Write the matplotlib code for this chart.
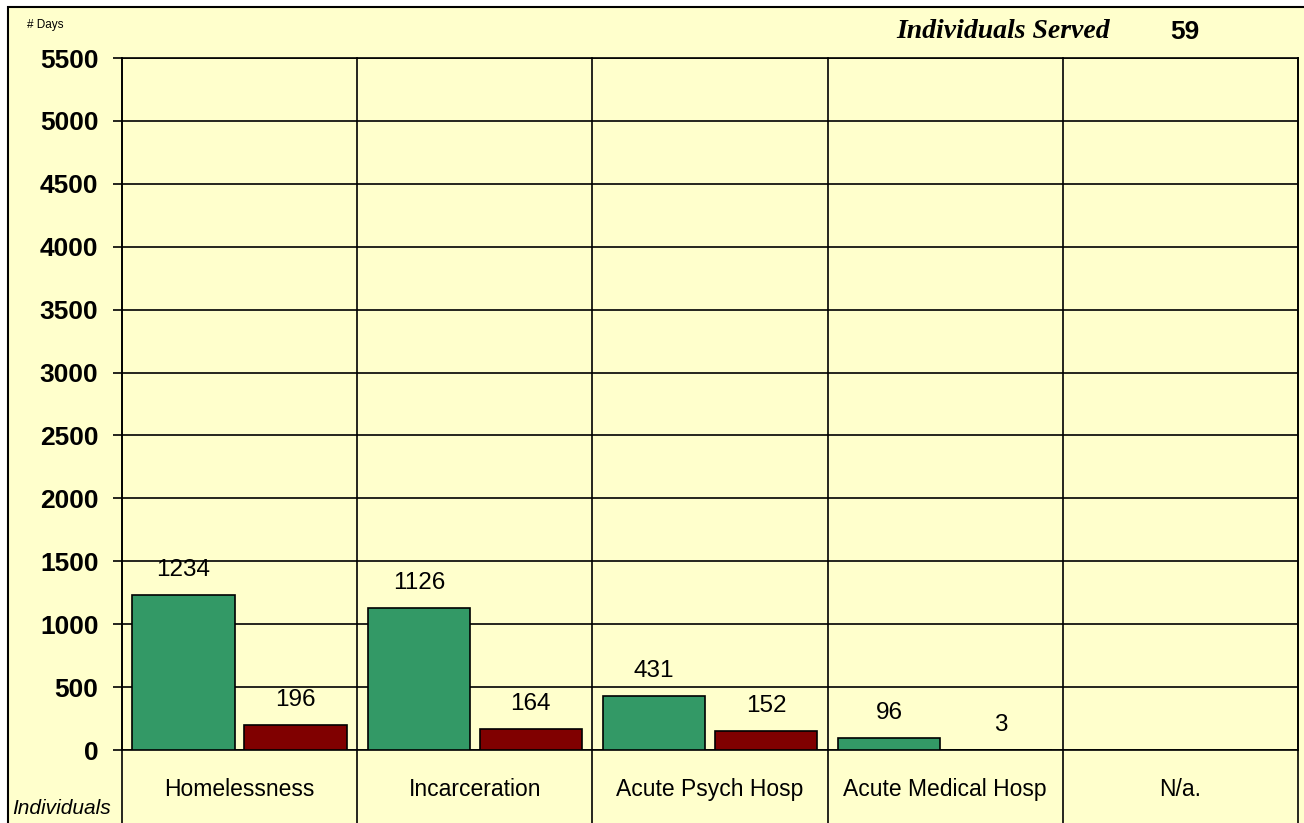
import matplotlib
matplotlib.use("Agg")
import matplotlib.pyplot as plt
import matplotlib.transforms as mtransforms
from matplotlib.patches import Rectangle
import numpy as np

categories = ["Homelessness", "Incarceration", "Acute Psych Hosp", "Acute Medical Hosp", "N/a."]
before_days = [1234, 1126, 431, 96, None]
after_days = [196, 164, 152, 3, None]
y_ticks = [0, 500, 1000, 1500, 2000, 2500, 3000, 3500, 4000, 4500, 5000, 5500]
individuals_served = 59

GREEN = "#339966"
RED = "#800000"
BG = "#FFFFCC"
SANS = "Liberation Sans"

W, H = 1304, 823
fig = plt.figure(figsize=(W / 100, H / 100), dpi=100, facecolor="white")

# outer chart frame (drawn underneath the axes)
fig.patches.append(Rectangle((8 / W, -0.05), 1.1, 1 - 7 / H + 0.05, transform=fig.transFigure,
                             facecolor=BG, edgecolor="black", lw=1.5, zorder=-10))

left, right, top, bottom = 122, 1298, 58, 750
ax = fig.add_axes([left / W, 1 - bottom / H, (right - left) / W, (bottom - top) / H])
ax.set_facecolor(BG)

x = np.arange(len(categories))
bw = 0.435
off = 0.238

for i in range(len(categories)):
    for val, dx, col in ((before_days[i], -off, GREEN), (after_days[i], off, RED)):
        if val is None:
            continue
        ax.bar(x[i] + dx, val, width=bw, color=col, edgecolor="black", lw=1.2, zorder=3)
        ax.annotate(str(val), xy=(x[i] + dx, val), xytext=(0, 18), textcoords="offset points",
                    ha="center", va="center", fontsize=17.5, family=SANS, zorder=4)

ax.set_xlim(-0.5, len(categories) - 0.5)
ax.set_ylim(0, 5500)
ax.set_yticks(y_ticks)
ax.set_yticklabels([str(t) for t in y_ticks], fontsize=19, fontweight="bold", family=SANS)
ax.tick_params(axis="y", length=6.5, width=1.2, pad=10.5, color="black")
ax.yaxis.grid(True, color="black", lw=1.2, zorder=1)
ax.set_axisbelow(True)

ax.set_xticks(x)
ax.set_xticklabels(categories, fontsize=16.5, family=SANS)
ax.tick_params(axis="x", length=0, pad=20)

for sp in ax.spines.values():
    sp.set_color("black")
    sp.set_linewidth(1.2)

# category separators running down through the label band
trans = mtransforms.blended_transform_factory(ax.transData, ax.transAxes)
for b in np.arange(-0.5, len(categories), 1.0):
    ax.plot([b, b], [-0.2, 1], color="black", lw=1.2, transform=trans, clip_on=False, zorder=5)

fig.text(27 / W, 1 - 25 / H, "# Days", fontsize=8.5, family=SANS, va="center", ha="left")
fig.text(12 / W, 1 - 808 / H, "Individuals", fontsize=15, family=SANS, style="italic",
         va="center", ha="left")
fig.text(1110 / W, 1 - 32 / H, "Individuals Served", fontsize=20, family="Liberation Serif",
         style="italic", fontweight="bold", va="center", ha="right")
fig.text(1185 / W, 1 - 32 / H, str(individuals_served), fontsize=19, family=SANS,
         fontweight="bold", va="center", ha="center")

fig.savefig("out.png", dpi=100, facecolor="white")
